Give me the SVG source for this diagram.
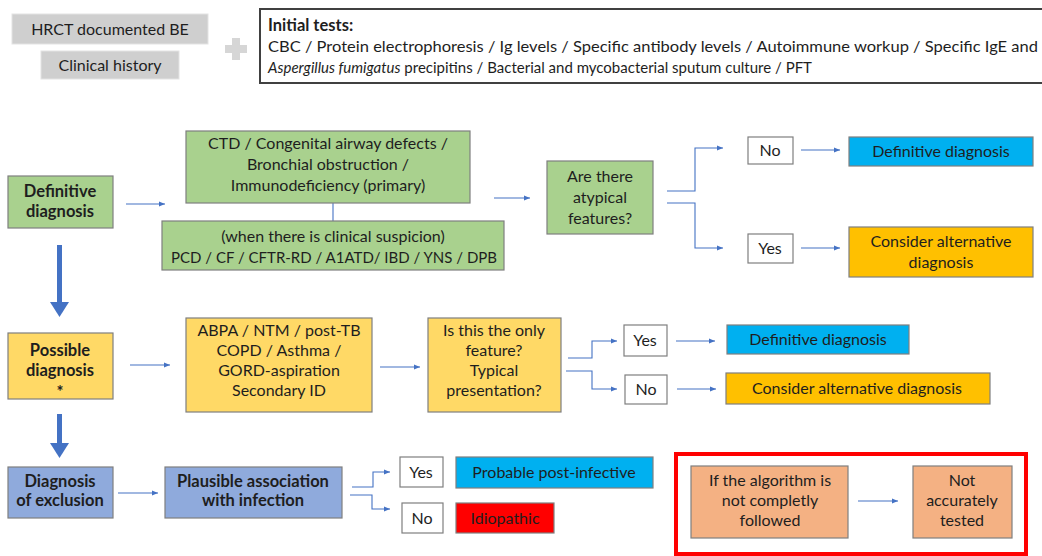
<svg xmlns="http://www.w3.org/2000/svg" width="1042" height="556" viewBox="0 0 1042 556">
<style>
text{font-family:Lato,"Liberation Sans",sans-serif;font-size:16px;fill:#1e1e1e}
.c{text-anchor:middle}
.b{font-weight:bold;font-size:16.5px}
.box{stroke:#7f7f7f;stroke-width:1.2}
.green{fill:#a9d18e}
.yel{fill:#ffd966}
.org{fill:#ffc000}
.blue{fill:#00b0f0}
.pur{fill:#8faadc}
.red{fill:#ff0000}
.sal{fill:#f4b183}
.wht{fill:#ffffff}
.gray{fill:#cfcfcf;stroke:#e3e3e3;stroke-width:1}
.con{fill:none;stroke:#4472c4;stroke-width:1.1}
.big{fill:none;stroke:#4472c4;stroke-width:5}
</style>
<defs>
<marker id="ah" markerWidth="7" markerHeight="6" refX="6" refY="3" orient="auto" markerUnits="userSpaceOnUse">
<path d="M0,0.5 L6,3 L0,5.5 z" fill="#4472c4"/>
</marker>
</defs>
<rect width="1042" height="556" fill="#ffffff"/>

<g id="hrct"><rect class="gray" x="12" y="14" width="196" height="30"/><text class="c" x="110" y="35">HRCT documented BE</text></g>
<g id="history"><rect class="gray" x="41" y="51" width="138" height="28"/><text class="c" x="110" y="71">Clinical history</text></g>
<g id="plus"><rect x="225" y="45" width="22" height="8" fill="#d6d6d6"/><rect x="232" y="38" width="8" height="22" fill="#d6d6d6"/></g>
<g id="initial"><rect x="260" y="9" width="790" height="74" fill="#fff" stroke="#404040" stroke-width="2"/>
<text x="268" y="31" class="b">Initial tests:</text>
<text x="268" y="52" textLength="770" lengthAdjust="spacingAndGlyphs">CBC / Protein electrophoresis / Ig levels / Specific antibody levels / Autoimmune workup / Specific IgE and</text>
<text x="268" y="73" textLength="544" lengthAdjust="spacingAndGlyphs"><tspan font-style="italic">Aspergillus fumigatus</tspan> precipitins / Bacterial and mycobacterial sputum culture / PFT</text>
</g>

<g id="connectors">
<line class="con" x1="126" y1="204" x2="165" y2="204" marker-end="url(#ah)"/>
<line class="con" x1="333" y1="203" x2="333" y2="221"/>
<line class="con" x1="494" y1="198" x2="530" y2="198" marker-end="url(#ah)"/>
<polyline class="con" points="667,191 695,191 695,148 723,148" marker-end="url(#ah)"/>
<polyline class="con" points="667,203 695,203 695,248 723,248" marker-end="url(#ah)"/>
<line class="con" x1="801" y1="150" x2="840" y2="150" marker-end="url(#ah)"/>
<line class="con" x1="801" y1="248" x2="840" y2="248" marker-end="url(#ah)"/>
<line class="big" x1="59.5" y1="245" x2="59.5" y2="304"/>
<path d="M50,302 L69,302 L59.5,317 z" fill="#4472c4"/>
<line class="con" x1="130" y1="365" x2="170" y2="365" marker-end="url(#ah)"/>
<line class="con" x1="380" y1="367" x2="420" y2="367" marker-end="url(#ah)"/>
<polyline class="con" points="568,358 592,358 592,341 617,341" marker-end="url(#ah)"/>
<polyline class="con" points="566,371 592,371 592,389 617,389" marker-end="url(#ah)"/>
<line class="con" x1="676" y1="341" x2="715" y2="341" marker-end="url(#ah)"/>
<line class="con" x1="677" y1="389" x2="716" y2="389" marker-end="url(#ah)"/>
<line class="big" x1="59.5" y1="414" x2="59.5" y2="445"/>
<path d="M50,443 L69,443 L59.5,458 z" fill="#4472c4"/>
<line class="con" x1="118" y1="493" x2="158" y2="493" marker-end="url(#ah)"/>
<polyline class="con" points="352,487 373,487 373,472 390,472" marker-end="url(#ah)"/>
<polyline class="con" points="350,495 372,495 372,509 390,509" marker-end="url(#ah)"/>
<line class="con" x1="858" y1="501" x2="898" y2="501" marker-end="url(#ah)"/>
</g>

<g id="def1"><rect class="box green" x="8" y="176" width="105" height="52"/><text class="c b" x="60" y="197">Definitive</text><text class="c b" x="60" y="217">diagnosis</text></g>
<g id="ctd"><rect class="box green" x="186" y="131" width="284" height="72"/>
<text class="c" x="328" y="149">CTD / Congenital airway defects /</text>
<text class="c" x="328" y="170">Bronchial obstruction /</text>
<text class="c" x="328" y="191">Immunodeficiency  (primary)</text></g>
<g id="suspicion"><rect class="box green" x="162" y="221" width="342" height="49"/>
<text class="c" x="333" y="242">(when there is clinical suspicion)</text>
<text class="c" x="334" y="263" textLength="326" lengthAdjust="spacingAndGlyphs">PCD / CF / CFTR-RD / A1ATD/ IBD / YNS / DPB</text></g>
<g id="atypical"><rect class="box green" x="547" y="161" width="106" height="73"/>
<text class="c" x="600" y="182">Are there</text><text class="c" x="600" y="203">atypical</text><text class="c" x="600" y="224">features?</text></g>
<g id="no1"><rect class="box wht" x="748" y="137" width="45" height="27"/><text class="c" x="770" y="156">No</text></g>
<g id="def1a"><rect class="box blue" x="849" y="137" width="184" height="29"/><text class="c" x="941" y="157">Definitive diagnosis</text></g>
<g id="yes1"><rect class="box wht" x="748" y="234" width="45" height="29"/><text class="c" x="770" y="254">Yes</text></g>
<g id="alt1"><rect class="box org" x="849" y="227" width="184" height="50"/><text class="c" x="941" y="247">Consider alternative</text><text class="c" x="941" y="268">diagnosis</text></g>

<g id="poss"><rect class="box yel" x="8" y="333" width="105" height="66"/>
<text class="c b" x="60" y="356">Possible</text><text class="c b" x="60" y="376">diagnosis</text><text class="c b" x="60" y="398">*</text></g>
<g id="abpa"><rect class="box yel" x="186" y="318" width="186" height="94"/>
<text class="c" x="279" y="336">ABPA / NTM / post-TB</text><text class="c" x="279" y="356">COPD / Asthma /</text><text class="c" x="279" y="376">GORD-aspiration</text><text class="c" x="279" y="396">Secondary ID</text></g>
<g id="only"><rect class="box yel" x="428" y="318" width="133" height="94"/>
<text class="c" x="494" y="336">Is this the only</text><text class="c" x="494" y="356">feature?</text><text class="c" x="494" y="376">Typical</text><text class="c" x="494" y="396">presentation?</text></g>
<g id="yes2"><rect class="box wht" x="624" y="325" width="43" height="31"/><text class="c" x="645" y="346">Yes</text></g>
<g id="def2"><rect class="box blue" x="727" y="325" width="182" height="29"/><text class="c" x="818" y="345">Definitive diagnosis</text></g>
<g id="no2"><rect class="box wht" x="625" y="375" width="42" height="29"/><text class="c" x="646" y="395">No</text></g>
<g id="alt2"><rect class="box org" x="726" y="373" width="264" height="31"/><text class="c" x="857" y="394">Consider alternative diagnosis</text></g>

<g id="excl"><rect class="box pur" x="8" y="467" width="105" height="51"/>
<text class="c b" x="60" y="487">Diagnosis</text><text class="c b" x="60" y="506">of exclusion</text></g>
<g id="plaus"><rect class="box pur" x="165" y="467" width="177" height="51"/>
<text class="c b" x="253" y="487">Plausible association</text><text class="c b" x="253" y="506">with infection</text></g>
<g id="yes3"><rect class="box wht" x="400" y="457" width="43" height="30"/><text class="c" x="421" y="478">Yes</text></g>
<g id="no3"><rect class="box wht" x="402" y="503" width="41" height="30"/><text class="c" x="422" y="524">No</text></g>
<g id="postinf"><rect class="box blue" x="456" y="457" width="197" height="31"/><text class="c" x="554" y="478">Probable post-infective</text></g>
<g id="idio"><rect class="box red" x="456" y="503" width="98" height="30"/><text class="c" x="505" y="524">Idiopathic</text></g>

<g id="note"><rect x="676" y="454" width="350" height="100" fill="none" stroke="#ff0000" stroke-width="4"/></g>
<g id="algo"><rect class="box sal" x="691" y="466" width="157" height="72"/>
<text class="c" x="770" y="486">If the algorithm is</text><text class="c" x="770" y="506">not completly</text><text class="c" x="770" y="526">followed</text></g>
<g id="notacc"><rect class="box sal" x="913" y="466" width="99" height="72"/>
<text class="c" x="962" y="486">Not</text><text class="c" x="962" y="506">accurately</text><text class="c" x="962" y="526">tested</text></g>
</svg>
